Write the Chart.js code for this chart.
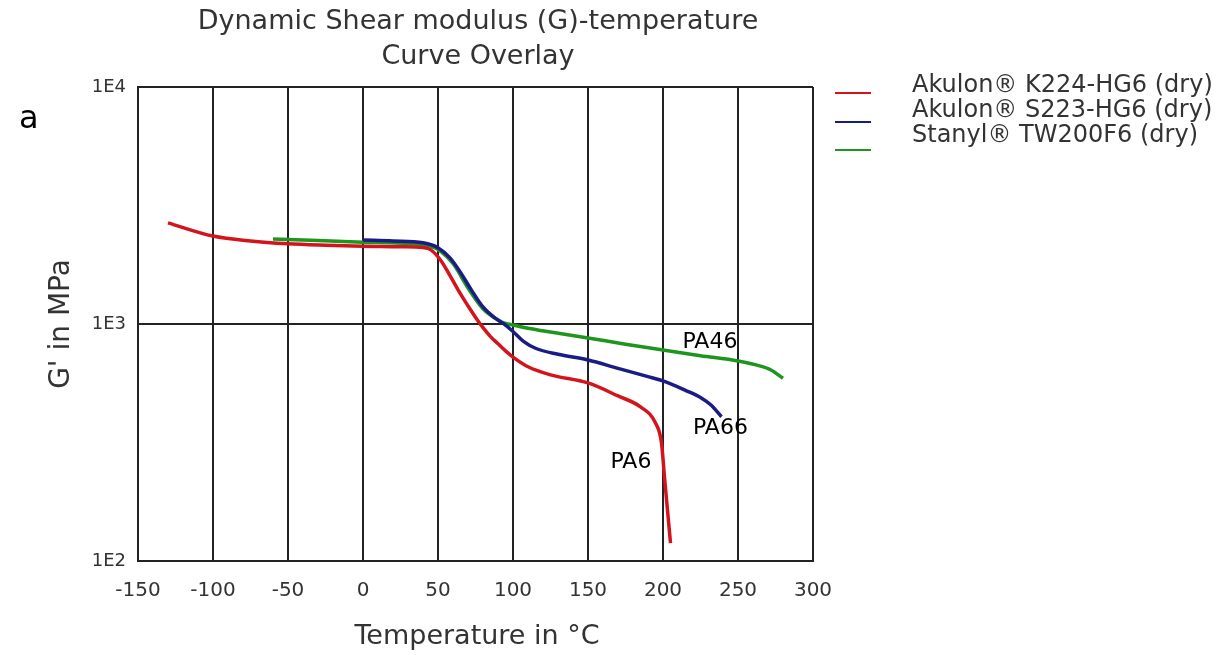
<!DOCTYPE html>
<html>
<head>
<meta charset="utf-8">
<title>Dynamic Shear modulus (G)-temperature</title>
<script src="https://cdn.jsdelivr.net/npm/chart.js@4"></script>
<style>
    html, body { margin: 0; padding: 0; background: #fff; }
    #wrap { width: 1224px; height: 655px; }
</style>
</head>
<body>
<div id="wrap"><canvas id="gChart" width="1224" height="655"></canvas></div>
<script>
// x ticks and y ticks
const tempTicks = [-150, -100, -50, 0, 50, 100, 150, 200, 250, 300];
const modulusTicks = [100, 1000, 10000];
const modulusTickLabels = ['1E2', '1E3', '1E4'];

// PA6 - Akulon K224-HG6 (dry)
const pa6Temp = [-130, -100, -75, -50, -25, 0, 25, 40, 45, 52, 58, 65, 72, 76, 80, 85, 90, 95, 100, 110, 125, 150, 170, 185, 195, 199, 201, 203, 205];
const pa6Modulus = [2670, 2350, 2240, 2180, 2150, 2130, 2120, 2100, 2060, 1850, 1600, 1340, 1140, 1045, 965, 885, 825, 770, 725, 660, 610, 564, 497, 447, 382, 315, 226, 164, 119];

// PA66 - Akulon S223-HG6 (dry)
const pa66Temp = [0, 20, 40, 50, 58, 65, 72, 80, 88, 95, 100, 107, 115, 130, 150, 170, 190, 200, 215, 225, 232, 239];
const pa66Modulus = [2260, 2240, 2200, 2100, 1900, 1650, 1400, 1180, 1060, 990, 930, 845, 790, 745, 705, 650, 600, 575, 525, 490, 455, 406];

// PA46 - Stanyl TW200F6 (dry)
const pa46Temp = [-60, -30, 0, 30, 45, 52, 60, 70, 80, 90, 95, 100, 110, 125, 150, 175, 200, 225, 250, 262, 272, 280];
const pa46Modulus = [2285, 2250, 2215, 2180, 2130, 2020, 1800, 1420, 1160, 1040, 1005, 990, 960, 925, 873, 822, 777, 735, 698, 672, 640, 590];

const seriesNames = ['Akulon® K224-HG6 (dry)', 'Akulon® S223-HG6 (dry)', 'Stanyl® TW200F6 (dry)'];
const curveLabels = ['PA6', 'PA66', 'PA46'];
// where the curve labels sit (temperature, modulus)
const labelTemp = [165, 220, 213];
const labelModulus = [262, 364, 839];

const colors = ['#d4141c', '#1b1b86', '#1e961e'];
const textColor = '#333';
const fontFamily = '"DejaVu Sans", "Open Sans", sans-serif';

function toPoints(xs, ys) {
    return xs.map((x, i) => ({ x: x, y: ys[i] }));
}

// titles, legend and curve labels
const extrasPlugin = {
    id: 'extras',
    afterDraw(chart) {
        const ctx = chart.ctx;
        const xs = chart.scales.x;
        const ys = chart.scales.y;
        ctx.save();

        ctx.fillStyle = textColor;
        ctx.textAlign = 'center';
        ctx.textBaseline = 'middle';
        ctx.font = '27px ' + fontFamily;
        ctx.fillText('Dynamic Shear modulus (G)-temperature', 478, 22);
        ctx.fillText('Curve Overlay', 478, 57);

        // axis titles
        ctx.font = '27px ' + fontFamily;
        ctx.fillText('Temperature in °C', 477, 637);
        ctx.save();
        ctx.translate(62, 324);
        ctx.rotate(-Math.PI / 2);
        ctx.font = '28px ' + fontFamily;
        ctx.fillText("G' in MPa", 0, 0);
        ctx.restore();

        // stray letter from the source page
        ctx.fillStyle = '#000';
        ctx.font = '32px ' + fontFamily;
        ctx.textAlign = 'left';
        ctx.fillText('a', 19, 120);

        // legend
        const lineY = [93, 122, 150];
        const textY = [86, 111, 136];
        ctx.font = '24px ' + fontFamily;
        seriesNames.forEach((name, i) => {
            ctx.strokeStyle = colors[i];
            ctx.lineWidth = 2;
            ctx.beginPath();
            ctx.moveTo(835, lineY[i]);
            ctx.lineTo(871, lineY[i]);
            ctx.stroke();
            ctx.fillStyle = textColor;
            ctx.fillText(name, 912, textY[i]);
        });

        // curve labels
        ctx.fillStyle = '#000';
        ctx.font = '22px ' + fontFamily;
        curveLabels.forEach((lbl, i) => {
            ctx.fillText(lbl, xs.getPixelForValue(labelTemp[i]), ys.getPixelForValue(labelModulus[i]));
        });

        ctx.restore();
    }
};

const lineStyle = {
    borderWidth: 3.5,
    pointRadius: 0,
    fill: false,
    cubicInterpolationMode: 'monotone'
};

new Chart(document.getElementById('gChart'), {
    type: 'line',
    data: {
        datasets: [
            Object.assign({ label: seriesNames[0], data: toPoints(pa6Temp, pa6Modulus), borderColor: colors[0], order: 0 }, lineStyle),
            Object.assign({ label: seriesNames[1], data: toPoints(pa66Temp, pa66Modulus), borderColor: colors[1], order: 1 }, lineStyle),
            Object.assign({ label: seriesNames[2], data: toPoints(pa46Temp, pa46Modulus), borderColor: colors[2], order: 2 }, lineStyle)
        ]
    },
    options: {
        responsive: false,
        animation: false,
        events: [],
        layout: { padding: { top: 87, right: 411, bottom: 0, left: 0 } },
        plugins: {
            legend: { display: false },
            title: { display: false },
            tooltip: { enabled: false }
        },
        scales: {
            x: {
                type: 'linear',
                min: -150,
                max: 300,
                afterFit: (scale) => { scale.height = 94; },
                afterBuildTicks: (scale) => { scale.ticks = tempTicks.map(v => ({ value: v })); },
                ticks: {
                    color: textColor,
                    font: { family: fontFamily, size: 20 },
                    padding: 18,
                    maxRotation: 0,
                    callback: (v) => v
                },
                grid: { color: '#222', lineWidth: 2, drawTicks: false },
                border: { color: '#222', width: 2 }
            },
            y: {
                type: 'logarithmic',
                min: 100,
                max: 10000,
                afterFit: (scale) => { scale.width = 138; },
                afterBuildTicks: (scale) => { scale.ticks = modulusTicks.map(v => ({ value: v })); },
                ticks: {
                    color: textColor,
                    font: { family: fontFamily, size: 18 },
                    padding: 12,
                    callback: (v) => modulusTickLabels[modulusTicks.indexOf(v)]
                },
                grid: { color: '#222', lineWidth: 2, drawTicks: false },
                border: { color: '#222', width: 2 }
            }
        }
    },
    plugins: [extrasPlugin]
});
</script>
</body>
</html>
